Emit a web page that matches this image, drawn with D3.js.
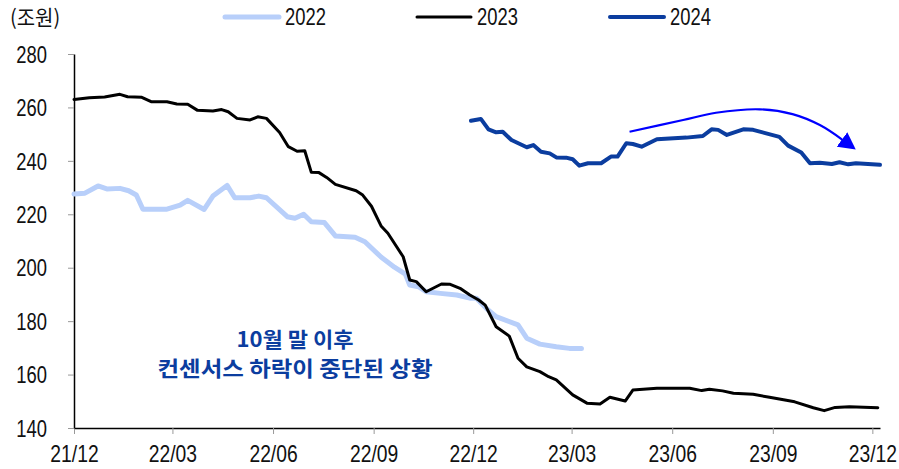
<!DOCTYPE html>
<html>
<head>
<meta charset="utf-8">
<script src="https://cdn.jsdelivr.net/npm/d3@7"></script>
<style>
  body { margin: 0; background: #fff; }
  svg text { font-family: "Liberation Sans", Arial, sans-serif; }
</style>
</head>
<body>
<svg id="chart" width="899" height="469"></svg>
<script>
// 시리즈 데이터 (날짜, 값: 조원)
var dates2022 = ["2021-12-01","2021-12-11","2021-12-23","2021-12-31","2022-01-12","2022-01-20","2022-01-27","2022-02-02",
  "2022-02-24","2022-03-08","2022-03-15","2022-03-30","2022-04-07","2022-04-20","2022-04-27","2022-05-11","2022-05-19",
  "2022-05-26","2022-06-14","2022-06-21","2022-06-29","2022-07-06","2022-07-18","2022-07-28","2022-08-15","2022-08-24",
  "2022-09-08","2022-09-20","2022-09-30","2022-10-04","2022-10-12","2022-10-19","2022-11-01","2022-11-16","2022-11-28",
  "2022-12-04","2022-12-13","2022-12-22","2023-01-11","2023-01-19","2023-01-31","2023-02-15","2023-02-27","2023-03-10"];
var values2022 = [227.6,227.9,230.6,229.5,229.7,228.8,227.2,221.9,
  221.9,223.4,225.2,221.8,226.8,230.8,226.2,226.2,226.8,
  226.2,219.1,218.5,220.0,217.2,216.9,211.9,211.4,209.7,
  203.9,200.2,197.6,193.5,192.9,191.0,190.4,189.8,188.6,
  188.6,184.8,181.7,178.6,173.6,171.4,170.4,169.8,169.8];

var dates2023 = ["2021-12-01","2021-12-15","2021-12-29","2022-01-12","2022-01-19","2022-02-01","2022-02-10","2022-02-24",
  "2022-03-05","2022-03-15","2022-03-24","2022-04-07","2022-04-15","2022-04-21","2022-04-29","2022-05-11","2022-05-18",
  "2022-05-26","2022-06-07","2022-06-15","2022-06-23","2022-06-30","2022-07-06","2022-07-13","2022-07-20","2022-07-28",
  "2022-08-16","2022-08-22","2022-08-30","2022-09-08","2022-09-14","2022-09-28","2022-10-04","2022-10-10","2022-10-19",
  "2022-11-02","2022-11-10","2022-11-19","2022-11-28","2022-12-06","2022-12-12","2022-12-22","2023-01-03","2023-01-11",
  "2023-01-19","2023-01-31","2023-02-08","2023-02-15","2023-03-02","2023-03-15","2023-03-27","2023-04-05","2023-04-19",
  "2023-04-26","2023-05-18","2023-06-17","2023-06-28","2023-07-05","2023-07-17","2023-07-27","2023-08-14","2023-08-29",
  "2023-09-21","2023-10-08","2023-10-18","2023-10-28","2023-11-10","2023-12-06"];
var values2023 = [263.0,263.6,263.9,264.9,264.0,263.8,262.1,262.1,
  261.3,261.2,258.9,258.7,259.2,258.4,255.9,255.3,256.5,
  255.9,250.6,245.3,243.6,243.8,235.7,235.6,233.8,231.2,
  228.8,227.2,223.0,215.5,212.9,204.1,195.4,194.8,191.0,
  193.9,193.8,192.3,189.8,187.9,186.0,177.9,174.4,166.1,
  162.9,161.1,159.2,158.0,152.4,149.3,149.0,151.5,150.1,
  154.2,154.9,154.9,154.0,154.5,153.9,153.0,152.6,151.5,
  149.8,147.6,146.5,147.7,148.0,147.6];

var dates2024 = ["2022-11-29","2022-12-08","2022-12-15","2022-12-22","2022-12-28","2023-01-05","2023-01-19","2023-01-25",
  "2023-02-01","2023-02-09","2023-02-15","2023-02-24","2023-03-02","2023-03-08","2023-03-16","2023-03-28","2023-04-06",
  "2023-04-12","2023-04-20","2023-04-26","2023-05-04","2023-05-18","2023-06-14","2023-06-29","2023-07-07","2023-07-13",
  "2023-07-21","2023-08-05","2023-08-14","2023-09-07","2023-09-15","2023-09-27","2023-10-05","2023-10-14","2023-10-25",
  "2023-11-01","2023-11-09","2023-11-16","2023-12-08"];
var values2024 = [255.0,255.7,251.8,250.7,250.9,247.8,245.1,245.9,
  243.4,242.8,241.3,241.2,240.6,238.2,239.1,239.1,241.6,
  241.6,246.6,246.3,245.3,248.1,248.7,249.3,251.8,251.6,
  249.7,251.8,251.6,249.0,245.7,243.1,239.1,239.3,238.8,
  239.5,238.7,239.1,238.5];

// 화살표 경로 (주석)
var arrowDates = ["2023-04-23","2023-06-11","2023-07-11","2023-08-20","2023-09-19","2023-10-14","2023-11-04"];
var arrowValues = [250.9,255.3,258.0,259.3,257.5,253.4,247.8];

var xTickLabels = ["21/12","22/03","22/06","22/09","22/12","23/03","23/06","23/09","23/12"];
var yTicks = [140,160,180,200,220,240,260,280];

var seriesNames = ["2022","2023","2024"];
var seriesColors = ["#B8CFFA","#000000","#0B3D9F"];
var seriesWidths = [5,3,4];

var parse = d3.timeParse("%Y-%m-%d");
var series = [
  {name: seriesNames[0], pts: dates2022.map(function(d, i) { return [parse(d), values2022[i]]; })},
  {name: seriesNames[1], pts: dates2023.map(function(d, i) { return [parse(d), values2023[i]]; })},
  {name: seriesNames[2], pts: dates2024.map(function(d, i) { return [parse(d), values2024[i]]; })}
];

var svg = d3.select("#chart");

var x = d3.scaleTime()
    .domain([parse("2021-12-01"), parse("2023-12-08")])
    .range([74, 880]);
var y = d3.scaleLinear()
    .domain([140, 280])
    .range([428, 54]);

// 축 (좁은 글꼴이 없어서 scaleX로 폭을 줄임)
var tickDates = xTickLabels.map(function(t) { return d3.timeParse("%y/%m")(t); });

var xAxis = svg.append("g")
    .attr("transform", "translate(0,428)")
    .call(d3.axisBottom(x).tickValues(tickDates).tickSize(6).tickSizeOuter(0)
      .tickFormat(d3.timeFormat("%y/%m")));
xAxis.select(".domain").attr("stroke", "#000").attr("stroke-width", 1.5);
xAxis.selectAll(".tick line").attr("stroke", "#999");
xAxis.selectAll(".tick text").attr("dy", 0).attr("y", 34)
    .style("font-size", "23px").attr("fill", "#111")
    .attr("transform", "scale(0.84,1)");

var yAxis = svg.append("g")
    .attr("transform", "translate(74,0)")
    .call(d3.axisLeft(y).tickValues(yTicks).tickSize(6).tickSizeOuter(0));
yAxis.select(".domain").attr("stroke", "#000").attr("stroke-width", 1.5);
yAxis.selectAll(".tick line").attr("stroke", "#999");
yAxis.selectAll(".tick text").attr("x", -27 / 0.8).attr("dy", "0.36em")
    .style("font-size", "23px").attr("fill", "#111")
    .attr("transform", "scale(0.8,1)");

svg.append("text")
    .attr("transform", "translate(10,25) scale(0.95,1)")
    .style("font-family", "'Noto Sans CJK KR', 'Liberation Sans', sans-serif")
    .style("font-size", "21px")
    .attr("fill", "#111")
    .text("(조원)");

// 라인
var line = d3.line()
    .x(function(d) { return x(d[0]); })
    .y(function(d) { return y(d[1]); });

series.forEach(function(s, i) {
  svg.append("path")
      .datum(s.pts)
      .attr("d", line)
      .attr("fill", "none")
      .attr("stroke", seriesColors[i])
      .attr("stroke-width", seriesWidths[i])
      .attr("stroke-linejoin", "round")
      .attr("stroke-linecap", "round");
});

// 범례
var legendX = [225, 417, 610];
seriesNames.forEach(function(n, i) {
  svg.append("line")
      .attr("x1", legendX[i]).attr("x2", legendX[i] + 54)
      .attr("y1", 17).attr("y2", 17)
      .attr("stroke", seriesColors[i])
      .attr("stroke-width", seriesWidths[i])
      .attr("stroke-linecap", "round");
  svg.append("text")
      .attr("transform", "translate(" + (legendX[i] + 60) + ",25) scale(0.8,1)")
      .style("font-size", "23px")
      .attr("fill", "#111")
      .text(n);
});

// 화살표
svg.append("defs").append("marker")
    .attr("id", "head")
    .attr("markerUnits", "userSpaceOnUse")
    .attr("markerWidth", 18).attr("markerHeight", 18)
    .attr("refX", 1).attr("refY", 9)
    .attr("orient", "auto")
  .append("path")
    .attr("d", "M0,0 L17,9 L0,18 Z")
    .attr("fill", "#0000FF");

var arrowPts = arrowDates.map(function(d, i) { return [parse(d), arrowValues[i]]; });
svg.append("path")
    .datum(arrowPts)
    .attr("d", line.curve(d3.curveCatmullRom))
    .attr("fill", "none")
    .attr("stroke", "#0000FF")
    .attr("stroke-width", 2.2)
    .attr("marker-end", "url(#head)");

// 주석 텍스트
var note = svg.append("text")
    .attr("text-anchor", "middle")
    .style("font-family", "'Noto Sans CJK KR', sans-serif")
    .style("font-weight", "bold")
    .style("font-size", "21px")
    .attr("fill", "#0B3D9F");
note.append("tspan").attr("x", 295).attr("y", 347).text("10월 말 이후")
    .attr("textLength", 117).attr("lengthAdjust", "spacingAndGlyphs");
note.append("tspan").attr("x", 295).attr("y", 376).text("컨센서스 하락이 중단된 상황")
    .attr("textLength", 275).attr("lengthAdjust", "spacingAndGlyphs");
</script>
</body>
</html>
